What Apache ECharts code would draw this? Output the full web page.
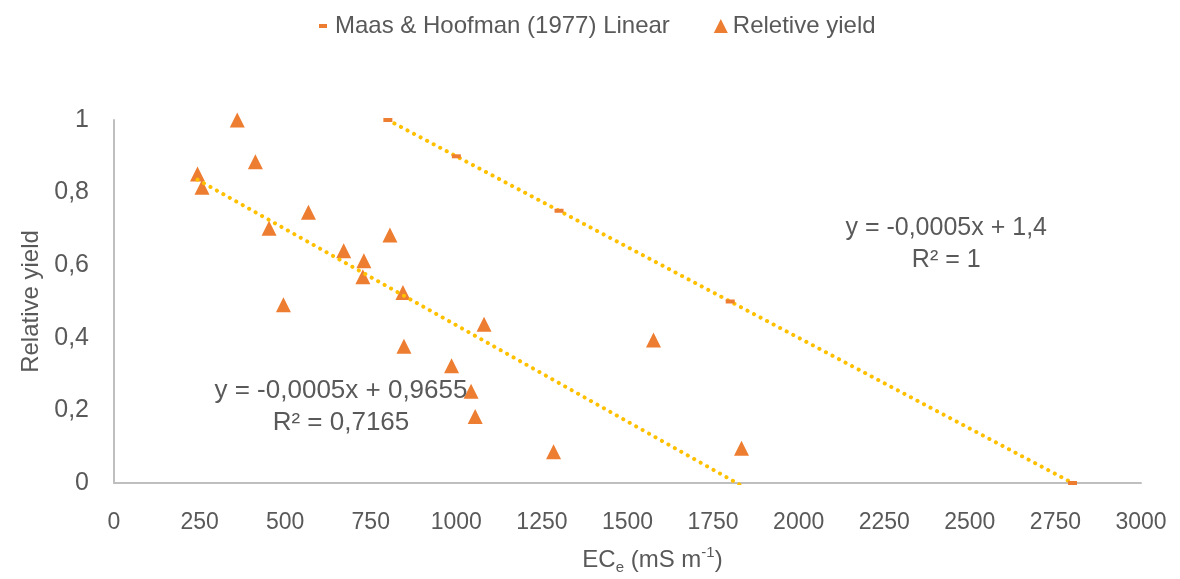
<!DOCTYPE html>
<html>
<head>
<meta charset="utf-8">
<title>Relative yield vs ECe</title>
<script src="https://cdn.jsdelivr.net/npm/echarts@6/dist/echarts.min.js"></script>
<style>
  html, body { margin: 0; padding: 0; background: #ffffff; }
  #chart { width: 1180px; height: 579px; }
</style>
</head>
<body>
<div id="chart"></div>
<script>
// Measured relative yield against soil salinity (ECe, mS/m)
const ecValues = [360, 413, 244, 257, 568, 453, 806, 671, 730, 727, 844, 495, 1081, 1576, 847, 986, 1043, 1055, 1284, 1833];
const yieldValues = [1.0, 0.885, 0.851, 0.815, 0.746, 0.702, 0.683, 0.640, 0.612, 0.568, 0.525, 0.491, 0.437, 0.394, 0.377, 0.323, 0.253, 0.183, 0.086, 0.096];

// Maas & Hoffman (1977) threshold-slope model points
const maasEc = [800, 1000, 1300, 1800, 2800];
const maasYield = [1.0, 0.9, 0.75, 0.5, 0.0];

// Trendline equation captions
const fitText = ['y = -0,0005x + 0,9655', 'R² = 0,7165'];
const maasText = ['y = -0,0005x + 1,4', 'R² = 1'];

const xTicks = { min: 0, max: 3000, step: 250 };
const yTicks = { min: 0, max: 1, step: 0.2 };

// Least-squares line over a set of points, spanning min x .. max x
function trend(xs, ys) {
  const n = xs.length;
  const mx = xs.reduce((a, b) => a + b, 0) / n;
  const my = ys.reduce((a, b) => a + b, 0) / n;
  let sxy = 0, sxx = 0;
  for (let i = 0; i < n; i++) {
    sxy += (xs[i] - mx) * (ys[i] - my);
    sxx += (xs[i] - mx) * (xs[i] - mx);
  }
  const slope = sxy / sxx;
  const icept = my - slope * mx;
  const x0 = Math.min(...xs), x1 = Math.max(...xs);
  return [[x0, icept + slope * x0], [x1, icept + slope * x1]];
}

const FONT = '"Liberation Sans", Arial, sans-serif';
const GREY = '#595959';
const ORANGE = '#ED7D31';
const GOLD = '#FFC000';

const dottedLine = {
  color: GOLD,
  width: 4,
  type: [0.1, 7.3],
  cap: 'round'
};

const dashIcon = 'path://M0,0L0.01,0L0,0.01Z M3,5L11,5L11,9L3,9Z M14,14L13.99,14L14,13.99Z';

const chart = echarts.init(document.getElementById('chart'), null, { renderer: 'canvas' });

chart.setOption({
  backgroundColor: '#ffffff',
  animation: false,
  textStyle: { fontFamily: FONT },
  legend: {
    left: 311,
    top: 9,
    itemWidth: 14,
    itemHeight: 14,
    itemGap: 44,
    textStyle: { fontFamily: FONT, fontSize: 24, color: GREY },
    data: [
      { name: 'Maas & Hoofman (1977) Linear', icon: dashIcon, itemStyle: { opacity: 1 } },
      { name: 'Reletive yield', icon: 'triangle', itemStyle: { opacity: 1 } }
    ]
  },
  grid: { left: 114, right: 39, top: 120, bottom: 96, outerBoundsMode: 'none' },
  xAxis: {
    type: 'value',
    min: xTicks.min,
    max: xTicks.max,
    interval: xTicks.step,
    axisLine: { show: true, lineStyle: { color: '#BFBFBF', width: 2 } },
    axisTick: { show: false },
    splitLine: { show: false },
    axisLabel: {
      color: GREY, fontSize: 23, fontFamily: FONT, margin: 28,
      formatter: v => String(v)
    },
    name: '{a|EC}{sub|e}{a| (mS m}{sup|-1}{a|)}',
    nameLocation: 'middle',
    nameGap: 62,
    nameTextStyle: {
      padding: [0, 0, 0, 50],
      rich: {
        a: { fontSize: 24, color: GREY, fontFamily: FONT, lineHeight: 30 },
        sub: { fontSize: 15, color: GREY, fontFamily: FONT, lineHeight: 15, verticalAlign: 'bottom' },
        sup: { fontSize: 15, color: GREY, fontFamily: FONT, lineHeight: 15, verticalAlign: 'top' }
      }
    }
  },
  yAxis: {
    type: 'value',
    min: yTicks.min,
    max: yTicks.max,
    interval: yTicks.step,
    axisLine: { show: true, lineStyle: { color: '#BFBFBF', width: 2 } },
    axisTick: { show: false },
    splitLine: { show: false },
    axisLabel: {
      color: GREY, fontSize: 25, fontFamily: FONT, margin: 25,
      formatter: v => String(Math.round(v * 10) / 10).replace('.', ',')
    },
    name: 'Relative yield',
    nameLocation: 'middle',
    nameGap: 70,
    nameTextStyle: { color: GREY, fontSize: 24, fontFamily: FONT }
  },
  series: [
    {
      name: 'Reletive yield',
      type: 'scatter',
      symbol: 'triangle',
      symbolSize: 15,
      itemStyle: { color: ORANGE, opacity: 1 },
      z: 2,
      data: ecValues.map((x, i) => [x, yieldValues[i]])
    },
    {
      name: 'fit',
      type: 'line',
      data: trend(ecValues, yieldValues),
      showSymbol: false,
      symbol: 'none',
      clip: true,
      lineStyle: dottedLine,
      z: 3,
      silent: true,
      markPoint: {
        symbol: 'circle',
        symbolSize: 1,
        itemStyle: { color: 'rgba(0,0,0,0)' },
        label: {
          show: true, position: 'inside', align: 'center',
          color: GREY, fontSize: 26, fontFamily: FONT, lineHeight: 32,
          formatter: fitText.join('\n')
        },
        data: [{ coord: [663, 0.209] }]
      }
    },
    {
      name: 'maasFit',
      type: 'line',
      data: trend(maasEc, maasYield),
      showSymbol: false,
      symbol: 'none',
      clip: true,
      lineStyle: dottedLine,
      z: 3,
      silent: true,
      markPoint: {
        symbol: 'circle',
        symbolSize: 1,
        itemStyle: { color: 'rgba(0,0,0,0)' },
        label: {
          show: true, position: 'inside', align: 'center',
          color: GREY, fontSize: 25, fontFamily: FONT, lineHeight: 32,
          formatter: maasText.join('\n')
        },
        data: [{ coord: [2431, 0.659] }]
      }
    },
    {
      name: 'Maas & Hoofman (1977) Linear',
      type: 'scatter',
      symbol: 'rect',
      symbolSize: [9, 4],
      itemStyle: { color: ORANGE, opacity: 1 },
      z: 4,
      data: maasEc.map((x, i) => [x, maasYield[i]])
    }
  ]
});
</script>
</body>
</html>
